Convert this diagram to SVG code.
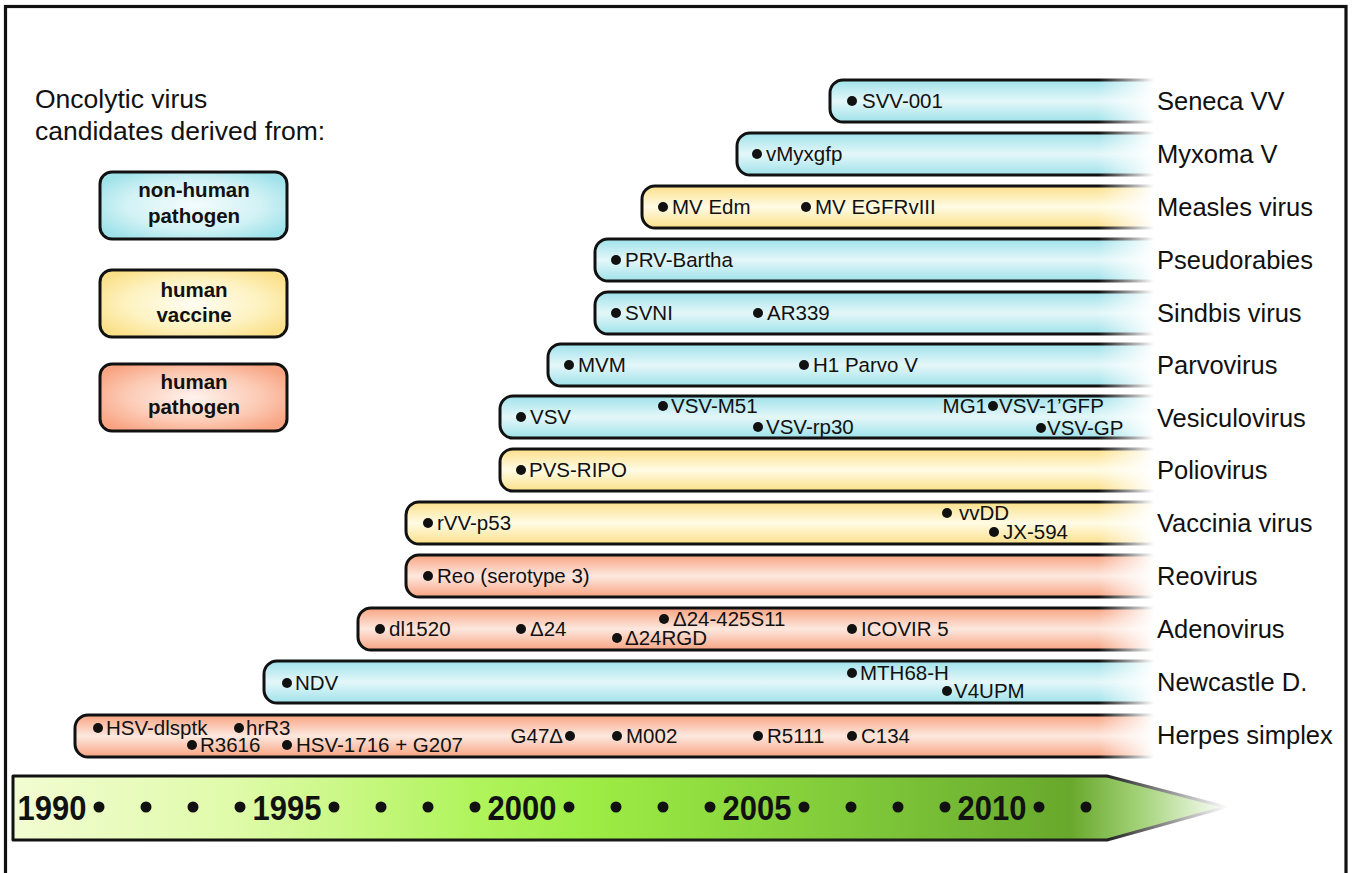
<svg xmlns="http://www.w3.org/2000/svg" width="1355" height="873" viewBox="0 0 1355 873">
<style>
  text { font-family: "Liberation Sans", Arial, sans-serif; fill: #111; }
  .it { font-size: 20.5px; }
  .lab { font-size: 25.5px; }
  .title { font-size: 26.5px; }
  .leg { font-size: 20.5px; font-weight: bold; text-anchor: middle; }
  .yr { font-size: 36px; font-weight: bold; text-anchor: middle; }
  .bar { stroke: #111; stroke-width: 3; }
  .cy { fill: url(#gCyan); }
  .ye { fill: url(#gYel); }
  .sa { fill: url(#gSal); }
  .d { fill: #111; }
</style>
<defs>
  <linearGradient id="gCyan" x1="0" y1="0" x2="0" y2="1">
    <stop offset="0" stop-color="#9fe2ea"/>
    <stop offset="0.5" stop-color="#e4f7f9"/>
    <stop offset="1" stop-color="#9fe2ea"/>
  </linearGradient>
  <linearGradient id="gYel" x1="0" y1="0" x2="0" y2="1">
    <stop offset="0" stop-color="#fbe08a"/>
    <stop offset="0.5" stop-color="#fffbe4"/>
    <stop offset="1" stop-color="#fbe08a"/>
  </linearGradient>
  <linearGradient id="gSal" x1="0" y1="0" x2="0" y2="1">
    <stop offset="0" stop-color="#f8a482"/>
    <stop offset="0.5" stop-color="#fde8df"/>
    <stop offset="1" stop-color="#f8a482"/>
  </linearGradient>
  <radialGradient id="rCyan" cx="0.5" cy="0.5" r="0.6">
    <stop offset="0" stop-color="#f4fcfd"/>
    <stop offset="0.6" stop-color="#d2f2f5"/>
    <stop offset="1" stop-color="#9fe2ea"/>
  </radialGradient>
  <radialGradient id="rYel" cx="0.5" cy="0.5" r="0.6">
    <stop offset="0" stop-color="#fffdf2"/>
    <stop offset="0.6" stop-color="#fdf2c0"/>
    <stop offset="1" stop-color="#fbe08a"/>
  </radialGradient>
  <radialGradient id="rSal" cx="0.5" cy="0.5" r="0.6">
    <stop offset="0" stop-color="#fef3ee"/>
    <stop offset="0.6" stop-color="#fccab4"/>
    <stop offset="1" stop-color="#f8a482"/>
  </radialGradient>
  <linearGradient id="mGrad" gradientUnits="userSpaceOnUse" x1="1098" y1="0" x2="1154" y2="0">
    <stop offset="0" stop-color="#fff"/>
    <stop offset="1" stop-color="#000"/>
  </linearGradient>
  <mask id="fade" maskUnits="userSpaceOnUse" x="0" y="0" width="1355" height="873">
    <rect x="0" y="0" width="1355" height="873" fill="url(#mGrad)"/>
  </mask>
  <linearGradient id="tlFill" gradientUnits="userSpaceOnUse" x1="12" y1="0" x2="1228" y2="0">
    <stop offset="0" stop-color="#f2fcd2"/>
    <stop offset="0.18" stop-color="#e0fbaa"/>
    <stop offset="0.38" stop-color="#b0f45c"/>
    <stop offset="0.48" stop-color="#9cec44"/>
    <stop offset="0.72" stop-color="#7cc438"/>
    <stop offset="0.87" stop-color="#68a82c"/>
    <stop offset="0.93" stop-color="#a6d47c"/>
    <stop offset="1" stop-color="#ffffff"/>
  </linearGradient>
  <linearGradient id="tlStroke" gradientUnits="userSpaceOnUse" x1="12" y1="0" x2="1228" y2="0">
    <stop offset="0" stop-color="#111"/>
    <stop offset="0.9" stop-color="#222"/>
    <stop offset="1" stop-color="#fff"/>
  </linearGradient>
</defs>

<rect x="0" y="0" width="1355" height="873" fill="#fff"/>
<rect id="frame" x="5.5" y="6.5" width="1340.5" height="900" fill="none" stroke="#111" stroke-width="3.2"/>

<g id="legend">
  <text class="title" x="35" y="108">Oncolytic virus</text>
  <text class="title" x="35" y="140">candidates derived from:</text>
  <g id="leg-nonhuman">
    <rect x="100" y="172" width="187" height="67" rx="12" fill="url(#rCyan)" stroke="#111" stroke-width="3"/>
    <text class="leg" x="194" y="197">non-human</text>
    <text class="leg" x="194" y="223">pathogen</text>
  </g>
  <g id="leg-vaccine">
    <rect x="100" y="270" width="187" height="67" rx="12" fill="url(#rYel)" stroke="#111" stroke-width="3"/>
    <text class="leg" x="194" y="297">human</text>
    <text class="leg" x="194" y="322">vaccine</text>
  </g>
  <g id="leg-pathogen">
    <rect x="100" y="364" width="187" height="67" rx="12" fill="url(#rSal)" stroke="#111" stroke-width="3"/>
    <text class="leg" x="194" y="389">human</text>
    <text class="leg" x="194" y="414">pathogen</text>
  </g>
</g>

<g id="bars">
  <g id="seneca">
    <rect class="bar cy" x="830" y="80" width="370" height="42" rx="13" mask="url(#fade)"/>
    <circle class="d" cx="852" cy="101" r="5"/><text class="it" x="862" y="108">SVV-001</text>
    <text class="lab" x="1157" y="110">Seneca VV</text>
  </g>
  <g id="myxoma">
    <rect class="bar cy" x="737" y="133" width="463" height="42" rx="13" mask="url(#fade)"/>
    <circle class="d" cx="757" cy="154" r="5"/><text class="it" x="766" y="161">vMyxgfp</text>
    <text class="lab" x="1157" y="163">Myxoma V</text>
  </g>
  <g id="measles">
    <rect class="bar ye" x="642" y="186" width="558" height="42" rx="13" mask="url(#fade)"/>
    <circle class="d" cx="663" cy="207" r="5"/><text class="it" x="672" y="214">MV Edm</text>
    <circle class="d" cx="806" cy="207" r="5"/><text class="it" x="815" y="214">MV EGFRvIII</text>
    <text class="lab" x="1157" y="216">Measles virus</text>
  </g>
  <g id="pseudorabies">
    <rect class="bar cy" x="595" y="239" width="605" height="42" rx="13" mask="url(#fade)"/>
    <circle class="d" cx="616" cy="260" r="5"/><text class="it" x="625" y="267">PRV-Bartha</text>
    <text class="lab" x="1157" y="269">Pseudorabies</text>
  </g>
  <g id="sindbis">
    <rect class="bar cy" x="595" y="292" width="605" height="42" rx="13" mask="url(#fade)"/>
    <circle class="d" cx="616" cy="313" r="5"/><text class="it" x="625" y="320">SVNI</text>
    <circle class="d" cx="758" cy="313" r="5"/><text class="it" x="767" y="320">AR339</text>
    <text class="lab" x="1157" y="322">Sindbis virus</text>
  </g>
  <g id="parvovirus">
    <rect class="bar cy" x="548" y="344" width="652" height="42" rx="13" mask="url(#fade)"/>
    <circle class="d" cx="569" cy="365" r="5"/><text class="it" x="578" y="372">MVM</text>
    <circle class="d" cx="804" cy="365" r="5"/><text class="it" x="813" y="372">H1 Parvo V</text>
    <text class="lab" x="1157" y="374">Parvovirus</text>
  </g>
  <g id="vesiculovirus">
    <rect class="bar cy" x="500" y="396" width="700" height="42" rx="13" mask="url(#fade)"/>
    <circle class="d" cx="521" cy="417" r="5"/><text class="it" x="530" y="424">VSV</text>
    <circle class="d" cx="663" cy="406" r="5"/><text class="it" x="671" y="413">VSV-M51</text>
    <circle class="d" cx="758" cy="427" r="5"/><text class="it" x="766" y="434">VSV-rp30</text>
    <text class="it" x="987" y="413" text-anchor="end">MG1</text>
    <circle class="d" cx="993" cy="406" r="5"/><text class="it" x="999" y="413">VSV-1’GFP</text>
    <circle class="d" cx="1041" cy="428" r="5"/><text class="it" x="1047" y="435">VSV-GP</text>
    <text class="lab" x="1157" y="427">Vesiculovirus</text>
  </g>
  <g id="poliovirus">
    <rect class="bar ye" x="500" y="449" width="700" height="42" rx="13" mask="url(#fade)"/>
    <circle class="d" cx="521" cy="470" r="5"/><text class="it" x="529" y="477">PVS-RIPO</text>
    <text class="lab" x="1157" y="479">Poliovirus</text>
  </g>
  <g id="vaccinia">
    <rect class="bar ye" x="406" y="502" width="794" height="42" rx="13" mask="url(#fade)"/>
    <circle class="d" cx="428" cy="523" r="5"/><text class="it" x="437" y="530">rVV-p53</text>
    <circle class="d" cx="947" cy="513" r="5"/><text class="it" x="959" y="520">vvDD</text>
    <circle class="d" cx="994" cy="532" r="5"/><text class="it" x="1003" y="539">JX-594</text>
    <text class="lab" x="1157" y="532">Vaccinia virus</text>
  </g>
  <g id="reovirus">
    <rect class="bar sa" x="406" y="555" width="794" height="42" rx="13" mask="url(#fade)"/>
    <circle class="d" cx="428" cy="576" r="5"/><text class="it" x="437" y="583">Reo (serotype 3)</text>
    <text class="lab" x="1157" y="585">Reovirus</text>
  </g>
  <g id="adenovirus">
    <rect class="bar sa" x="358" y="608" width="842" height="42" rx="13" mask="url(#fade)"/>
    <circle class="d" cx="380" cy="629" r="5"/><text class="it" x="389" y="636">dl1520</text>
    <circle class="d" cx="521" cy="629" r="5"/><text class="it" x="530" y="636">Δ24</text>
    <circle class="d" cx="664" cy="619" r="5"/><text class="it" x="673" y="626">Δ24-425S11</text>
    <circle class="d" cx="617" cy="638" r="5"/><text class="it" x="625" y="645">Δ24RGD</text>
    <circle class="d" cx="852" cy="629" r="5"/><text class="it" x="861" y="636">ICOVIR 5</text>
    <text class="lab" x="1157" y="638">Adenovirus</text>
  </g>
  <g id="newcastle">
    <rect class="bar cy" x="264" y="661" width="936" height="42" rx="13" mask="url(#fade)"/>
    <circle class="d" cx="287" cy="683" r="5"/><text class="it" x="295" y="690">NDV</text>
    <circle class="d" cx="852" cy="673" r="5"/><text class="it" x="860" y="680">MTH68-H</text>
    <circle class="d" cx="947" cy="691" r="5"/><text class="it" x="954" y="698">V4UPM</text>
    <text class="lab" x="1157" y="691">Newcastle D.</text>
  </g>
  <g id="herpes">
    <rect class="bar sa" x="75" y="715" width="1125" height="42" rx="13" mask="url(#fade)"/>
    <circle class="d" cx="98" cy="728" r="5"/><text class="it" x="106" y="735">HSV-dlsptk</text>
    <circle class="d" cx="239" cy="728" r="5"/><text class="it" x="246" y="735">hrR3</text>
    <circle class="d" cx="192" cy="745" r="5"/><text class="it" x="200" y="752">R3616</text>
    <circle class="d" cx="287" cy="745" r="5"/><text class="it" x="296" y="752">HSV-1716 + G207</text>
    <text class="it" x="563" y="743" text-anchor="end">G47Δ</text>
    <circle class="d" cx="570" cy="736" r="5"/>
    <circle class="d" cx="617" cy="736" r="5"/><text class="it" x="626" y="743">M002</text>
    <circle class="d" cx="758" cy="736" r="5"/><text class="it" x="767" y="743">R5111</text>
    <circle class="d" cx="852" cy="736" r="5"/><text class="it" x="861" y="743">C134</text>
    <text class="lab" x="1157" y="744">Herpes simplex</text>
  </g>
</g>

<g id="timeline">
  <path d="M13,776 L1107,776 L1226,807 L1107,840 L13,840 Z" fill="url(#tlFill)" stroke="url(#tlStroke)" stroke-width="3" stroke-linejoin="round"/>
  <g transform="translate(52,820) scale(0.86,1)"><text class="yr" x="0" y="0">1990</text></g>
  <g transform="translate(287,820) scale(0.86,1)"><text class="yr" x="0" y="0">1995</text></g>
  <g transform="translate(522,820) scale(0.86,1)"><text class="yr" x="0" y="0">2000</text></g>
  <g transform="translate(757,820) scale(0.86,1)"><text class="yr" x="0" y="0">2005</text></g>
  <g transform="translate(992,820) scale(0.86,1)"><text class="yr" x="0" y="0">2010</text></g>
  <g class="d">
    <circle cx="99" cy="807" r="5.5"/><circle cx="146" cy="807" r="5.5"/><circle cx="193" cy="807" r="5.5"/><circle cx="240" cy="807" r="5.5"/>
    <circle cx="334" cy="807" r="5.5"/><circle cx="381" cy="807" r="5.5"/><circle cx="428" cy="807" r="5.5"/><circle cx="475" cy="807" r="5.5"/>
    <circle cx="569" cy="807" r="5.5"/><circle cx="616" cy="807" r="5.5"/><circle cx="663" cy="807" r="5.5"/><circle cx="710" cy="807" r="5.5"/>
    <circle cx="804" cy="807" r="5.5"/><circle cx="851" cy="807" r="5.5"/><circle cx="898" cy="807" r="5.5"/><circle cx="945" cy="807" r="5.5"/>
    <circle cx="1039" cy="807" r="5.5"/><circle cx="1086" cy="807" r="5.5"/>
  </g>
</g>
</svg>
